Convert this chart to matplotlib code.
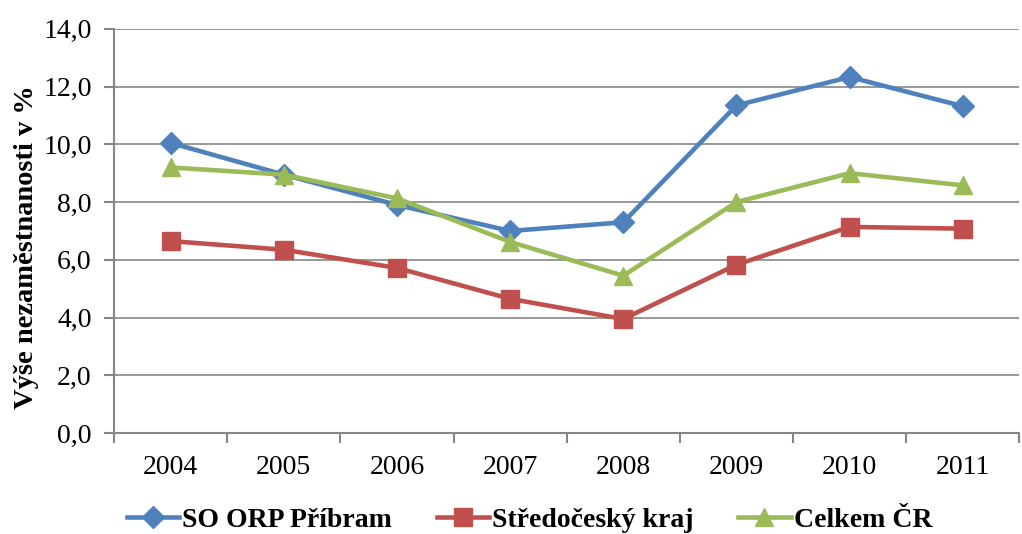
import matplotlib.pyplot as plt
import numpy as np

years = ['2004', '2005', '2006', '2007', '2008', '2009', '2010', '2011']
pribram = [10.05, 8.95, 7.9, 7.0, 7.3, 11.35, 12.33, 11.32]
stredocesky = [6.65, 6.35, 5.72, 4.65, 3.95, 5.83, 7.14, 7.08]
celkem = [9.2, 8.95, 8.13, 6.62, 5.45, 8.0, 9.0, 8.58]
series_names = ['SO ORP Příbram', 'Středočeský kraj', 'Celkem ČR']

plt.rcParams['font.family'] = 'serif'
plt.rcParams['font.serif'] = ['Liberation Serif', 'DejaVu Serif']

fig = plt.figure(figsize=(10.22, 5.34), dpi=100)
ax = fig.add_axes([0.1115, 0.189, 0.886, 0.757])

x = np.arange(len(years))
ax.plot(x, pribram, color='#4F81BD', lw=3.3, marker='D', ms=11.5, label=series_names[0])
ax.plot(x, stredocesky, color='#C0504D', lw=3.3, marker='s', ms=12.5, label=series_names[1])
ax.plot(x, celkem, color='#9BBB59', lw=3.3, marker='^', ms=13.5, label=series_names[2])

ax.set_xlim(-0.5, len(years) - 0.5)
ax.set_ylim(0, 14)
yt = np.arange(0, 14.1, 2)
ax.set_yticks(yt)
ax.set_yticklabels([f'{v:.1f}'.replace('.', ',') for v in yt])
ax.set_xticks(x)
ax.set_xticklabels(years)
ax.set_xticks(np.arange(-0.5, len(years), 1), minor=True)
ax.tick_params(axis='x', which='major', length=0, labelsize=20, pad=16)
ax.tick_params(axis='x', which='minor', length=7, color='#868686', width=1.5)
ax.tick_params(axis='y', length=7, color='#868686', width=1.5, labelsize=20, pad=9)
ax.grid(axis='y', color='#868686', lw=1.2)
ax.set_axisbelow(True)
for s in ['top', 'right']:
    ax.spines[s].set_visible(False)
for s in ['left', 'bottom']:
    ax.spines[s].set_color('#868686')
    ax.spines[s].set_linewidth(1.5)

ax.set_ylabel('Výše nezaměstnanosti v %', fontsize=20.5, fontweight='bold',
              va='center')
ax.yaxis.set_label_coords(-0.097, 0.46)

fig.legend(loc='lower center', bbox_to_anchor=(0.518, -0.045), ncol=3, frameon=False,
           prop={'weight': 'bold', 'size': 20}, handlelength=1.9, handletextpad=0.1,
           columnspacing=1.6)

fig.savefig('out.png', dpi=100)
